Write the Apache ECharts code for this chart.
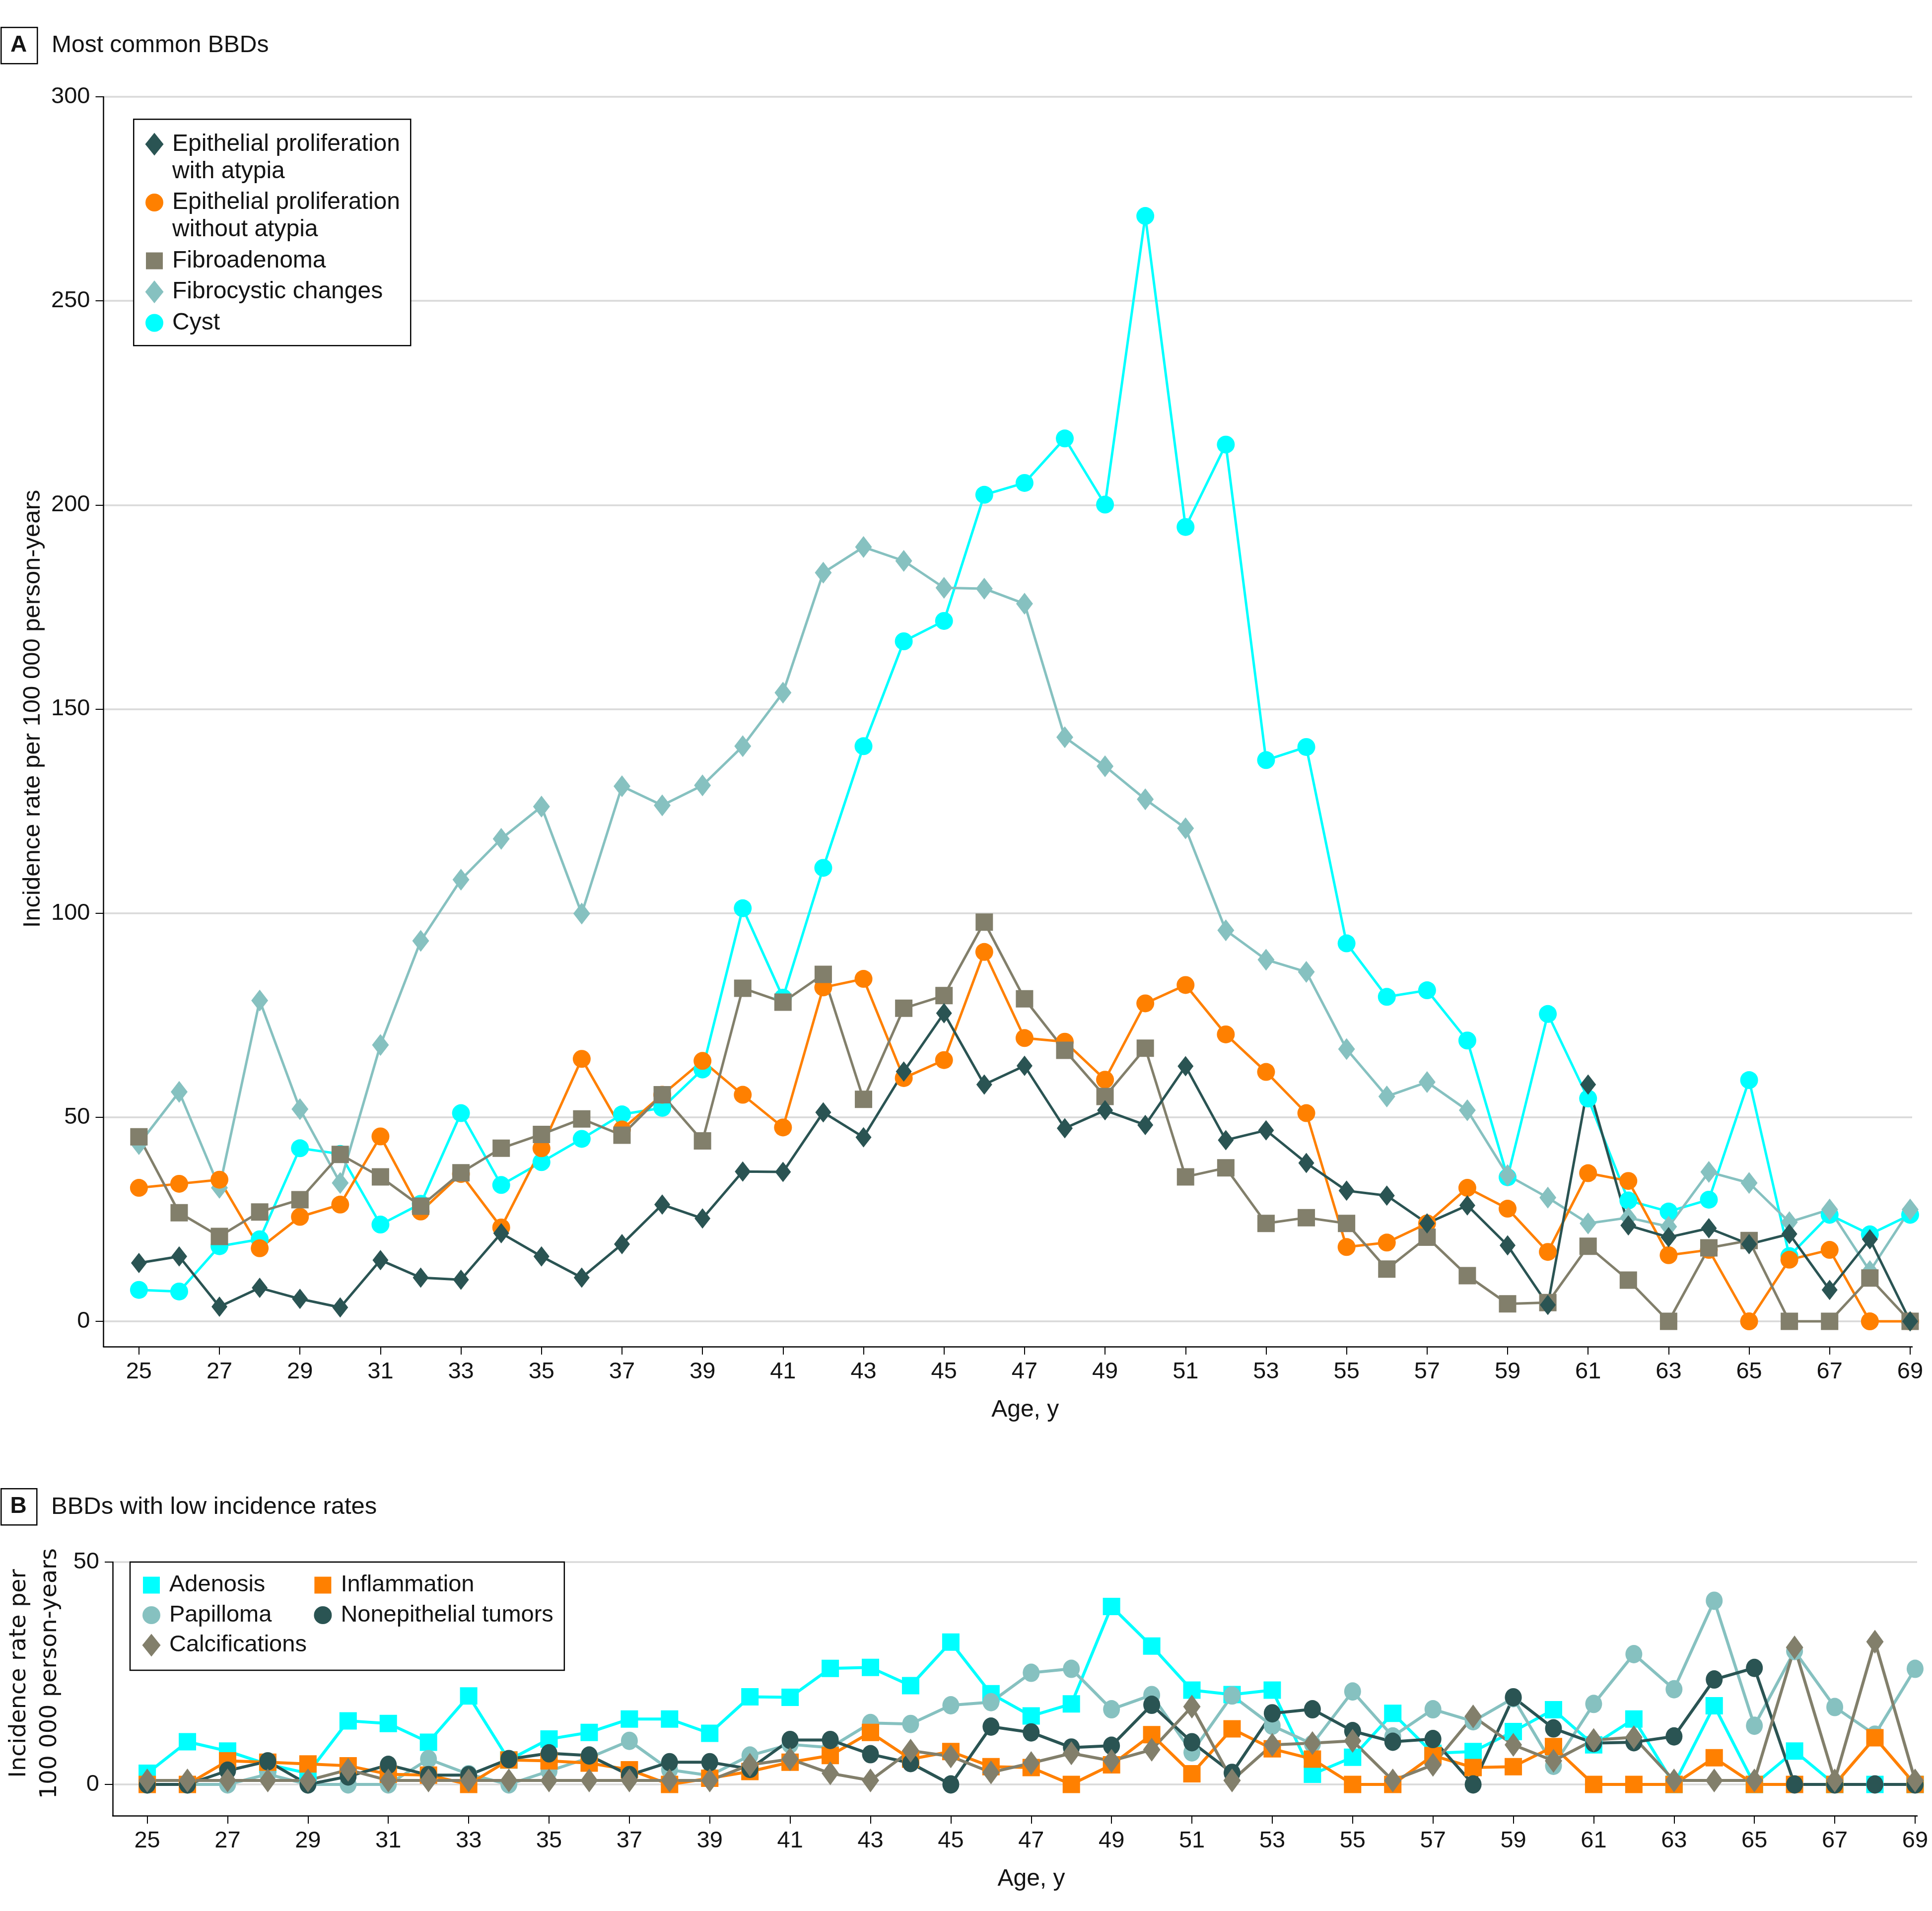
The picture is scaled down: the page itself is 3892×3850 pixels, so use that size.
<!DOCTYPE html>
<html>
<head>
<meta charset="utf-8">
<script src="https://cdn.jsdelivr.net/npm/echarts@6/dist/echarts.min.js"></script>
<style>
html,body{margin:0;padding:0;background:#fff;}
#chart{width:3892px;height:3850px;}
</style>
</head>
<body>
<div id="chart"></div>
<script>
// ---------- data ----------
var ages = [25,26,27,28,29,30,31,32,33,34,35,36,37,38,39,40,41,42,43,44,45,46,47,48,49,50,51,52,53,54,55,56,57,58,59,60,61,62,63,64,65,66,67,68,69];
var xTickLabels = [25,27,29,31,33,35,37,39,41,43,45,47,49,51,53,55,57,59,61,63,65,67,69];
var yTicksA = [0,50,100,150,200,250,300];
var yTicksB = [0,50];

// Panel A: most common BBDs (incidence per 100 000 person-years)
var withAtypia = [14.3,15.9,3.6,8.2,5.5,3.4,15.0,10.7,10.2,21.6,15.9,10.7,18.9,28.6,25.2,36.7,36.6,51.2,45.1,61.2,75.5,58.0,62.6,47.3,51.7,48.1,62.5,44.4,46.8,38.8,32.0,30.8,24.0,28.4,18.6,4.0,58.0,23.5,20.6,22.8,18.9,21.4,7.7,20.1,0];
var withoutAtypia = [32.7,33.7,34.7,17.9,25.6,28.6,45.3,26.9,36.1,23.0,42.4,64.3,47.0,55.5,63.8,55.5,47.5,81.8,83.9,59.6,64.0,90.5,69.4,68.5,59.2,77.9,82.4,70.3,61.1,51.0,18.2,19.3,24.0,32.7,27.6,17.0,36.3,34.4,16.2,17.5,0,15.1,17.5,0,0];
var fibroadenoma = [45.2,26.6,20.8,26.8,29.8,40.9,35.4,28.2,36.4,42.4,45.8,49.6,45.6,55.5,44.2,81.6,78.2,85.0,54.4,76.7,79.8,97.8,79.0,66.4,55.1,66.9,35.4,37.6,24.0,25.4,24.0,12.8,20.6,11.2,4.3,4.6,18.4,10.1,0,18.0,19.8,0,0,10.6,0];
var fibrocystic = [43.4,56.2,32.7,78.6,52.0,33.9,67.7,93.2,108.2,118.2,126.1,99.9,131.1,126.4,131.3,140.9,154.0,183.4,189.7,186.3,179.7,179.5,175.8,143.1,136.0,127.9,120.8,95.8,88.6,85.6,66.7,55.1,58.6,51.7,35.8,30.3,24.0,25.4,23.2,36.6,33.9,24.3,27.4,12.3,27.4];
var cyst = [7.7,7.3,18.4,20.1,42.4,41.0,23.7,28.8,51.0,33.4,39.0,44.7,50.7,52.3,61.7,101.2,79.3,111.1,140.9,166.6,171.6,202.5,205.4,216.3,200.1,270.8,194.6,214.8,137.5,140.7,92.6,79.5,81.1,68.8,35.3,75.3,54.6,29.6,26.9,29.8,59.1,16.0,26.1,21.3,26.1];

// Panel B: BBDs with low incidence rates
var adenosis = [2.5,9.6,7.5,4.5,2.5,14.3,13.7,9.5,19.9,5.5,10.2,11.7,14.7,14.7,11.5,19.7,19.6,26.1,26.3,22.2,32.0,20.4,15.4,18.1,40.0,31.1,21.2,20.2,21.2,2.3,6.1,16.0,7.0,7.4,11.9,16.8,8.9,14.7,0,17.7,0,7.5,0,0,0];
var papilloma = [0,0,0,2.3,0,0,0,5.7,2.3,0,3.0,6.0,9.8,3.3,2.0,6.5,9.0,8.3,13.8,13.6,17.8,18.5,25.1,26.0,16.9,20.1,7.2,20.0,13.2,9.1,20.9,10.8,16.9,14.2,19.4,4.2,18.1,29.3,21.4,41.3,13.2,30.0,17.4,11.2,26.0];
var inflammation = [0,0,5.3,5.0,4.6,4.2,2.3,2.1,0,5.5,5.3,4.8,3.3,0,1.4,2.9,5.0,6.5,11.7,5.7,7.4,4.0,3.8,0,4.4,11.2,2.4,12.5,8.0,5.7,0,0,6.5,3.8,4.0,8.5,0,0,0,6.0,0,0,0,10.5,0];
var nonepithelial = [0,0,3.1,5.2,0,1.8,4.4,2.1,2.1,5.7,7.0,6.5,2.1,5.0,5.0,3.5,10.0,10.0,6.8,4.8,0,13.0,11.7,8.3,8.7,17.9,9.5,2.6,16.0,16.9,12.0,9.6,10.2,0,19.6,12.6,9.3,9.5,10.8,23.6,26.2,0,0,0,0];
var calcifications = [0.9,0.9,0.9,0.9,0.9,3.3,0.9,0.9,0.9,0.9,0.9,0.9,0.9,0.9,0.9,4.4,5.7,2.5,0.9,7.6,6.3,2.7,4.8,7.0,5.3,7.8,17.5,0.9,8.9,9.3,9.8,0.9,4.4,15.3,8.9,5.3,10.0,10.6,0.9,0.9,0.9,30.8,0.9,32.1,0.9];

// ---------- styles ----------
var FONT = "'Liberation Sans', Arial, sans-serif";
var TXT = '#141414';
var C_DARK = '#2a5453', C_ORANGE = '#ff8000', C_GREY = '#827f6b', C_LTEAL = '#86c1c0', C_CYAN = '#00ffff';
// legend icons drawn inside a 38 x 46 box
var ICON_DIAMOND = 'path://M0,0M19,0L37.5,23L19,46L0.5,23ZM38,46';
var ICON_SQUARE = 'path://M0,0M2,6L36,6L36,40L2,40ZM38,46';
var ICON_CIRCLE = 'path://M0,0M1,23A18,18,0,1,1,37,23A18,18,0,1,1,1,23ZM38,46';
// icons for two-line entries: 38 x 110 box, symbol level with the first text line
var ICON_DIAMOND_2L = 'path://M0,0M19,4.5L37.5,27.5L19,50.5L0.5,27.5ZM38,110';
var ICON_CIRCLE_2L = 'path://M0,0M1,27.5A18,18,0,1,1,37,27.5A18,18,0,1,1,1,27.5ZM38,110';

function pairs(arr){ return ages.map(function(a,i){ return [a, arr[i]]; }); }

var NAME_ATY = 'Epithelial proliferation\nwith atypia';
var NAME_NOA = 'Epithelial proliferation\nwithout atypia';

function lineSeries(name, data, color, symbol, size, gi, lw){
  return {
    type:'line', name:name, data:pairs(data), xAxisIndex:gi, yAxisIndex:gi,
    symbol:symbol, symbolSize:size, showAllSymbol:true,
    lineStyle:{color:color, width:lw}, itemStyle:{color:color},
    emphasis:{disabled:true}, clip:false
  };
}

function xAxisDef(gi, min, max, padLeft){
  return {
    type:'value', gridIndex:gi, min:min, max:max,
    name:'Age, y', nameLocation:'middle', nameGap:104,
    nameTextStyle:{fontFamily:FONT, fontSize:48, color:TXT, padding:[0,0,0,padLeft]},
    axisLine:{show:true, onZero:false, lineStyle:{color:'#000', width:2.5}},
    axisTick:{show:true, length:16, lineStyle:{color:'#000', width:2}, customValues:xTickLabels},
    axisLabel:{fontFamily:FONT, fontSize:47, color:TXT, margin:28, customValues:xTickLabels},
    splitLine:{show:false}
  };
}

var legendTextA = {fontFamily:FONT, fontSize:48, lineHeight:55, color:TXT, padding:[0,0,0,12]};

var option = {
  animation:false,
  backgroundColor:'#ffffff',
  textStyle:{fontFamily:FONT},
  grid:[
    {left:208.5, top:195, right:40, bottom:1137, containLabel:false},
    {left:218, top:3147, right:30, bottom:192, containLabel:false}
  ],
  xAxis:[ xAxisDef(0, 24.12, 69.05, 70), xAxisDef(1, 24.14, 69.05, 66) ],
  yAxis:[
    {
      type:'value', gridIndex:0, min:-6.2, max:300,
      name:'Incidence rate per 100 000 person-years', nameLocation:'middle', nameRotate:90, nameGap:118,
      nameTextStyle:{fontFamily:FONT, fontSize:49, color:TXT, padding:[0,0,0,52]},
      axisLine:{show:true, onZero:false, lineStyle:{color:'#000', width:2.5}},
      axisTick:{show:true, length:16, lineStyle:{color:'#000', width:2}, customValues:yTicksA},
      axisLabel:{fontFamily:FONT, fontSize:47, color:TXT, margin:27, customValues:yTicksA},
      splitLine:{show:true, lineStyle:{color:'#d9d9d9', width:3.5}}
    },
    {
      type:'value', gridIndex:1, min:-7.03, max:50,
      name:'Incidence rate per\n100 000 person-years', nameLocation:'middle', nameRotate:90, nameGap:95,
      nameTextStyle:{fontFamily:"'DejaVu Sans', sans-serif", fontSize:46, lineHeight:62, color:TXT, padding:[0,0,0,62]},
      axisLine:{show:true, onZero:false, lineStyle:{color:'#000', width:2.5}},
      axisTick:{show:true, length:16, lineStyle:{color:'#000', width:2}, customValues:yTicksB},
      axisLabel:{fontFamily:FONT, fontSize:47, color:TXT, margin:27, customValues:yTicksB},
      splitLine:{show:true, lineStyle:{color:'#d9d9d9', width:3.5}}
    }
  ],
  legend:[
    {
      orient:'vertical', left:268, top:239, selectedMode:false, symbolKeepAspect:true, z:5,
      padding:[24,20,0,24], itemWidth:38, itemHeight:110, itemGap:7.5,
      textStyle:legendTextA,
      data:[
        {name:NAME_ATY, icon:ICON_DIAMOND_2L},
        {name:NAME_NOA, icon:ICON_CIRCLE_2L}
      ]
    },
    {
      orient:'vertical', left:268, top:498, selectedMode:false, symbolKeepAspect:true, z:5,
      padding:[0,20,0,24], itemWidth:38, itemHeight:46, itemGap:7.5,
      textStyle:legendTextA,
      data:[
        {name:'Fibroadenoma', icon:ICON_SQUARE},
        {name:'Fibrocystic changes', icon:ICON_DIAMOND},
        {name:'Cyst', icon:ICON_CIRCLE}
      ]
    },
    {
      orient:'vertical', left:262, top:3147, height:195, selectedMode:false, symbolKeepAspect:true,
      padding:[23,22,27,24], itemWidth:38, itemHeight:46, itemGap:13.5,
      backgroundColor:'#fff', borderColor:'#000', borderWidth:2.5,
      textStyle:{fontFamily:FONT, fontSize:47, lineHeight:41.5, color:TXT, padding:[0,0,0,12]},
      data:[
        {name:'Adenosis', icon:ICON_SQUARE},
        {name:'Papilloma', icon:ICON_CIRCLE},
        {name:'Calcifications', icon:ICON_DIAMOND},
        {name:'Inflammation', icon:ICON_SQUARE},
        {name:'Nonepithelial tumors', icon:ICON_CIRCLE}
      ]
    }
  ],
  graphic:[
    // frame of the panel A legend
    {type:'rect', left:268, top:239, z:4, shape:{width:558, height:456}, style:{fill:'#fff', stroke:'#000', lineWidth:2.5}},
    {type:'rect', left:1, top:54, shape:{width:73, height:73}, style:{fill:'#fff', stroke:'#000', lineWidth:2.5}},
    {type:'text', x:37.5, y:91, style:{text:'A', font:"bold 46px 'Liberation Sans', Arial, sans-serif", fill:TXT, textAlign:'center', textVerticalAlign:'middle'}},
    {type:'text', x:104, y:92, style:{text:'Most common BBDs', font:"48px 'Liberation Sans', Arial, sans-serif", fill:TXT, textAlign:'left', textVerticalAlign:'middle'}},
    {type:'rect', left:1, top:2998, shape:{width:72, height:73}, style:{fill:'#fff', stroke:'#000', lineWidth:2.5}},
    {type:'text', x:37, y:3035, style:{text:'B', font:"bold 46px 'Liberation Sans', Arial, sans-serif", fill:TXT, textAlign:'center', textVerticalAlign:'middle'}},
    {type:'text', x:103, y:3036, style:{text:'BBDs with low incidence rates', font:"49px 'Liberation Sans', Arial, sans-serif", fill:TXT, textAlign:'left', textVerticalAlign:'middle'}}
  ],
  series:[
    lineSeries('Cyst', cyst, C_CYAN, 'circle', 36, 0, 5),
    lineSeries('Fibrocystic changes', fibrocystic, C_LTEAL, 'diamond', [34,44], 0, 5),
    lineSeries(NAME_NOA, withoutAtypia, C_ORANGE, 'circle', 36, 0, 5),
    lineSeries('Fibroadenoma', fibroadenoma, C_GREY, 'rect', 35, 0, 5),
    lineSeries(NAME_ATY, withAtypia, C_DARK, 'diamond', [32,41], 0, 5),

    lineSeries('Adenosis', adenosis, C_CYAN, 'rect', 35, 1, 6),
    lineSeries('Papilloma', papilloma, C_LTEAL, 'circle', [34,37], 1, 6),
    lineSeries('Inflammation', inflammation, C_ORANGE, 'rect', 35, 1, 6),
    lineSeries('Nonepithelial tumors', nonepithelial, C_DARK, 'circle', [34,37], 1, 6),
    lineSeries('Calcifications', calcifications, C_GREY, 'diamond', [35,48], 1, 6)
  ]
};

var chart = echarts.init(document.getElementById('chart'), null, {renderer:'canvas', width:3892, height:3850});
chart.setOption(option);
</script>
</body>
</html>
